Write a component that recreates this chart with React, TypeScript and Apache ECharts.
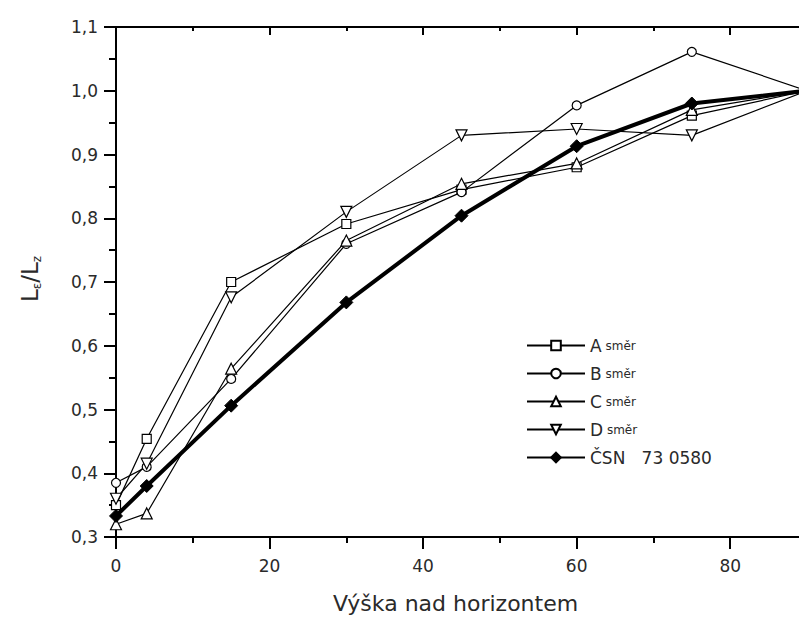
import React, { useEffect, useRef } from "react";
import * as echarts from "echarts";

// Elevation above the horizon (degrees)
const xValues = [0, 4, 15, 30, 45, 60, 75, 90];
// L_eps / L_z ratios
const seriesA = [0.35, 0.454, 0.7, 0.791, 0.845, 0.88, 0.961, 1.0];
const seriesB = [0.385, 0.41, 0.548, 0.76, 0.841, 0.977, 1.061, 1.0];
const seriesC = [0.32, 0.337, 0.564, 0.765, 0.854, 0.886, 0.97, 1.0];
const seriesD = [0.36, 0.415, 0.676, 0.81, 0.93, 0.94, 0.93, 1.0];
const seriesCSN = [0.333, 0.38, 0.506, 0.668, 0.804, 0.913, 0.98, 1.0];

const seriesNames = ["A směr", "B směr", "C směr", "D směr", "ČSN 73 0580"];
const xTitle = "Výška nad horizontem";

const FONT = "DejaVu Sans";
const TXT = "#2a2a2a";

function pairs(ys: number[]) {
  return xValues.map((x, i) => [x, ys[i]]);
}

export default function App() {
  const ref = useRef<HTMLDivElement>(null);
  useEffect(() => {
    if (!ref.current) return;
    const chart = echarts.init(ref.current, undefined, { renderer: "svg" });
    const axisLine = { show: true, lineStyle: { color: "#000", width: 2 } };
    const thin = (sym: string, data: number[], size: number, rotate = 0) => ({
      type: "line",
      name: "",
      data: pairs(data),
      symbol: sym,
      symbolSize: size,
      symbolRotate: rotate,
      showAllSymbol: true,
      itemStyle: { color: "#fff", borderColor: "#000", borderWidth: 1.2 },
      lineStyle: { color: "#000", width: 1.2 },
      z: 2,
    });
    const sA = { ...thin("rect", seriesA, 9), name: seriesNames[0] };
    const sB = { ...thin("circle", seriesB, 9), name: seriesNames[1] };
    const sC = { ...thin("triangle", seriesC, 11), name: seriesNames[2] };
    const sD = { ...thin("triangle", seriesD, 11, 180), name: seriesNames[3] };
    const sCSN = {
      type: "line",
      name: seriesNames[4],
      data: pairs(seriesCSN),
      symbol: "diamond",
      symbolSize: 13,
      itemStyle: { color: "#000", borderColor: "#000", borderWidth: 1 },
      lineStyle: { color: "#000", width: 4 },
      z: 3,
    };
    const option: any = {
      animation: false,
      backgroundColor: "#fff",
      textStyle: { fontFamily: FONT },
      grid: { left: 116, top: 27, width: 691, height: 510, containLabel: false },
      legend: {
        orient: "vertical",
        left: 521,
        top: 332,
        itemWidth: 58,
        itemHeight: 12,
        itemGap: 11,
        data: seriesNames,
        formatter: (name: string) => {
          if (name.startsWith("ČSN")) return "{big|ČSN   73 0580}";
          const [letter, rest] = name.split(" ");
          return `{big|${letter}}{small| ${rest}}`;
        },
        textStyle: {
          fontFamily: FONT,
          rich: {
            big: { fontSize: 17, color: TXT, lineHeight: 19, fontFamily: FONT },
            small: { fontSize: 12, color: TXT, lineHeight: 19, fontFamily: FONT },
          },
        },
      },
      xAxis: [
        {
          type: "value",
          position: "bottom",
          min: 0,
          max: 90,
          interval: 20,
          axisLine,
          axisTick: { show: true, inside: false, length: 12, lineStyle: { color: "#000", width: 2 } },
          axisLabel: { margin: 20, fontSize: 17, color: TXT, showMaxLabel: false, fontFamily: FONT },
          splitLine: { show: false },
          name: xTitle,
          nameLocation: "middle",
          nameGap: 55,
          nameTextStyle: { fontSize: 22, color: TXT, fontFamily: FONT, padding: [0, 12, 0, 0] },
        },
        {
          type: "value",
          position: "bottom",
          min: 0,
          max: 90,
          interval: 10,
          axisLine: { show: false },
          axisTick: { show: true, inside: false, length: 6, lineStyle: { color: "#000", width: 2 } },
          axisLabel: { show: false },
          splitLine: { show: false },
        },
        {
          type: "value",
          position: "top",
          min: 0,
          max: 90,
          interval: 20,
          axisLine,
          axisTick: { show: true, inside: true, length: 8, lineStyle: { color: "#000", width: 2 } },
          axisLabel: { show: false },
          splitLine: { show: false },
        },
        {
          type: "value",
          position: "top",
          min: 0,
          max: 90,
          interval: 10,
          axisLine: { show: false },
          axisTick: { show: true, inside: true, length: 4, lineStyle: { color: "#000", width: 2 } },
          axisLabel: { show: false },
          splitLine: { show: false },
        },
      ],
      yAxis: [
        {
          type: "value",
          position: "left",
          min: 0.3,
          max: 1.1,
          interval: 0.1,
          axisLine,
          axisTick: { show: true, inside: false, length: 12, lineStyle: { color: "#000", width: 2 } },
          minorTick: { show: true, splitNumber: 2, length: 7, lineStyle: { color: "#000", width: 2 } },
          axisLabel: {
            margin: 18,
            fontSize: 17,
            color: TXT,
            fontFamily: FONT,
            formatter: (v: number) => v.toFixed(1).replace(".", ","),
          },
          splitLine: { show: false },
          name: "{m|L}{s|ε}{m|/L}{s|z}",
          nameLocation: "middle",
          nameRotate: 90,
          nameGap: 73,
          nameTextStyle: {
            color: TXT,
            padding: [0, 0, 0, 6],
            rich: {
              m: { fontSize: 23, color: TXT, lineHeight: 26, fontFamily: FONT },
              s: { fontSize: 12, color: TXT, lineHeight: 13, verticalAlign: "bottom", fontFamily: FONT },
            },
          },
        },
        {
          type: "value",
          position: "right",
          min: 0.3,
          max: 1.1,
          interval: 0.1,
          axisLine,
          axisTick: { show: true, inside: true, length: 8, lineStyle: { color: "#000", width: 2 } },
          minorTick: { show: true, splitNumber: 2, length: 4, lineStyle: { color: "#000", width: 2 } },
          axisLabel: { show: false },
          splitLine: { show: false },
        },
      ],
      series: [sA, sB, sC, sD, sCSN],
    };
    chart.setOption(option);
    return () => chart.dispose();
  }, []);
  return (
    <div style={{ position: "fixed", left: 0, top: 0, width: 799, height: 619, overflow: "hidden", background: "#fff" }}>
      <div ref={ref} style={{ width: 830, height: 619 }} />
    </div>
  );
}
